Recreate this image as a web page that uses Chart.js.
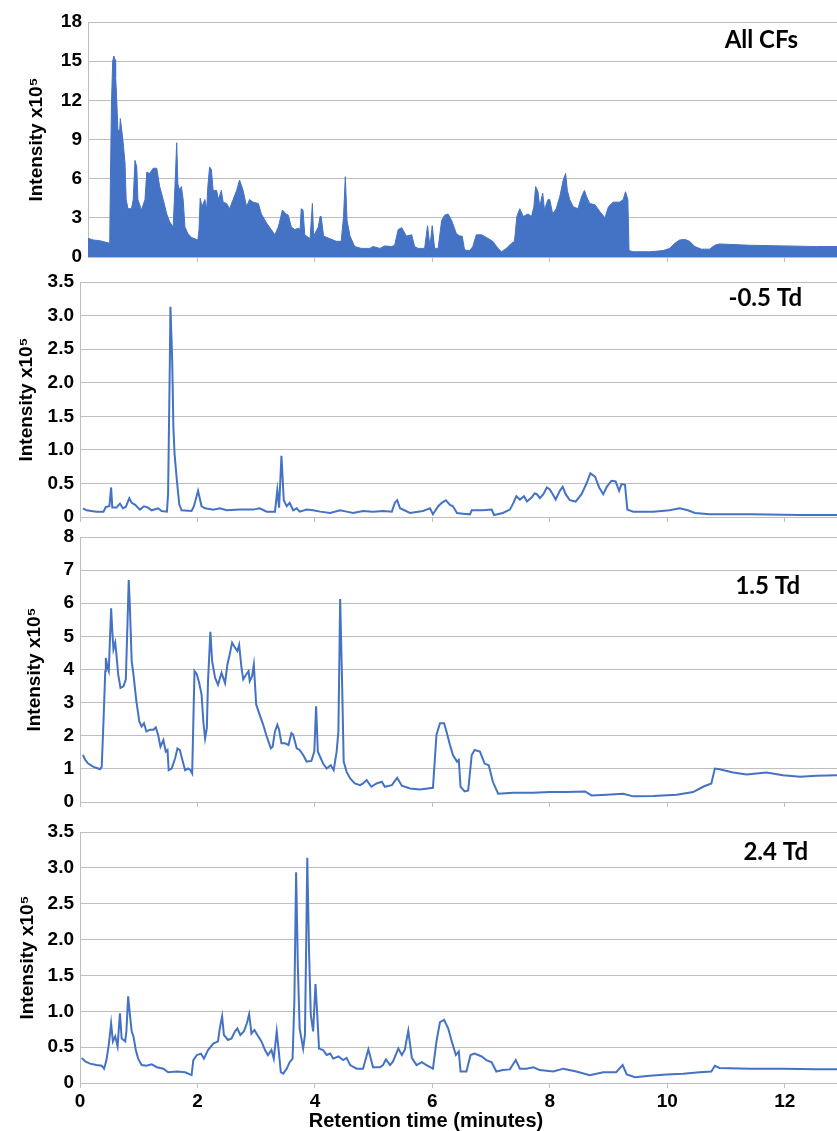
<!DOCTYPE html>
<html>
<head>
<meta charset="utf-8">
<script src="https://cdn.jsdelivr.net/npm/chart.js@4.4.1/dist/chart.umd.min.js"></script>
<style>
  body { margin: 0; background: #fff; width: 837px; height: 1131px; position: relative; overflow: hidden; }
  canvas { position: absolute; left: 0; }
</style>
</head>
<body>
<canvas id="p1" width="837" height="265" style="top:0px"></canvas>
<canvas id="p2" width="837" height="262" style="top:265px"></canvas>
<canvas id="p3" width="837" height="283" style="top:527px"></canvas>
<canvas id="p4" width="837" height="323" style="top:810px"></canvas>
<script>
// Retention time ticks (minutes)
const xTicks = [0, 2, 4, 6, 8, 10, 12];

// All CFs (x10^5)
const allT = [0.14, 0.23, 0.34, 0.51, 0.52, 0.54, 0.56, 0.58, 0.60, 0.61, 0.62, 0.65, 0.68, 0.69, 0.72, 0.74, 0.77, 0.79, 0.82, 0.88,
  0.91, 0.94, 0.97, 0.99, 1.05, 1.11, 1.14, 1.19, 1.25, 1.31, 1.36, 1.42, 1.48, 1.53, 1.59, 1.62, 1.65, 1.67, 1.70, 1.73,
  1.76, 1.79, 1.84, 1.90, 2.01, 2.03, 2.05, 2.08, 2.13, 2.16, 2.18, 2.21, 2.24, 2.27, 2.33, 2.36, 2.41, 2.44, 2.50, 2.55,
  2.61, 2.67, 2.72, 2.78, 2.84, 2.89, 2.95, 3.04, 3.09, 3.18, 3.26, 3.32, 3.38, 3.45, 3.51, 3.55, 3.60, 3.66, 3.72, 3.75,
  3.77, 3.80, 3.83, 3.92, 3.96, 3.98, 4.06, 4.09, 4.11, 4.15, 4.26, 4.37, 4.45, 4.49, 4.52, 4.55, 4.60, 4.68, 4.79, 4.94,
  4.99, 5.11, 5.19, 5.31, 5.36, 5.42, 5.48, 5.56, 5.65, 5.70, 5.76, 5.87, 5.92, 5.96, 6.00, 6.04, 6.10, 6.16, 6.21, 6.27,
  6.33, 6.41, 6.47, 6.51, 6.55, 6.64, 6.69, 6.75, 6.84, 6.92, 7.03, 7.12, 7.18, 7.26, 7.35, 7.40, 7.44, 7.49, 7.55, 7.63,
  7.69, 7.73, 7.76, 7.80, 7.83, 7.88, 7.91, 7.97, 8.00, 8.05, 8.11, 8.17, 8.23, 8.27, 8.30, 8.34, 8.40, 8.48, 8.54, 8.59,
  8.63, 8.68, 8.77, 8.85, 8.94, 9.00, 9.08, 9.19, 9.25, 9.29, 9.33, 9.35, 9.42, 9.70, 9.93, 10.04, 10.13, 10.21, 10.30, 10.38,
  10.47, 10.58, 10.72, 10.81, 10.89, 11.40, 11.97, 12.54, 12.90];
const allY = [1.43, 1.3, 1.25, 1.05, 5.4, 11.8, 15.0, 15.4, 15.1, 13.8, 13.0, 9.7, 9.7, 10.6, 9.5, 8.7, 7.2, 4.4, 3.7, 3.7,
  4.4, 7.4, 6.9, 4.4, 3.6, 4.4, 6.5, 6.4, 6.8, 6.8, 5.4, 4.4, 3.3, 2.7, 2.3, 5.4, 8.75, 5.6, 5.1, 5.4,
  4.4, 2.3, 1.8, 1.5, 1.3, 2.1, 4.5, 3.85, 4.4, 3.6, 5.4, 6.9, 6.7, 5.1, 5.1, 4.4, 5.1, 4.2, 4.1, 3.7,
  4.4, 5.1, 5.9, 5.1, 3.85, 4.4, 4.2, 4.1, 3.3, 2.6, 2.1, 1.7, 2.3, 3.6, 3.3, 3.2, 2.3, 2.1, 2.2, 2.1,
  3.7, 3.6, 1.7, 1.4, 4.1, 1.6, 2.3, 3.1, 3.1, 1.6, 1.4, 1.2, 1.2, 3.1, 6.15, 2.8, 1.6, 0.8, 0.66, 0.66,
  0.8, 0.66, 0.85, 0.8, 0.9, 2.1, 2.25, 1.6, 1.7, 0.8, 0.66, 0.66, 2.4, 0.8, 2.4, 0.66, 0.66, 2.8, 3.2, 3.3,
  2.8, 1.8, 1.6, 1.6, 0.54, 0.49, 0.8, 1.7, 1.7, 1.5, 1.2, 0.66, 0.4, 0.66, 1.05, 1.2, 3.1, 3.7, 3.1, 3.3,
  3.1, 3.85, 5.4, 5.0, 3.85, 4.9, 3.6, 4.4, 4.4, 3.3, 3.7, 4.6, 5.9, 6.4, 5.1, 4.4, 3.85, 3.7, 4.6, 5.1,
  4.6, 4.1, 4.0, 3.5, 3.0, 3.85, 4.2, 4.2, 4.4, 5.0, 4.4, 0.49, 0.4, 0.4, 0.49, 0.66, 1.05, 1.3, 1.35, 1.2,
  0.8, 0.6, 0.6, 0.9, 1.0, 0.9, 0.85, 0.8, 0.8];

// -0.5 Td (x10^5)
const negT = [0.05, 0.11, 0.28, 0.40, 0.44, 0.50, 0.53, 0.55, 0.62, 0.68, 0.73, 0.78, 0.84, 0.88, 0.94, 1.02, 1.09, 1.16, 1.22, 1.33,
  1.39, 1.48, 1.50, 1.53, 1.54, 1.57, 1.59, 1.61, 1.65, 1.69, 1.73, 1.90, 1.94, 2.01, 2.07, 2.13, 2.27, 2.38, 2.50, 2.72,
  2.95, 3.06, 3.18, 3.32, 3.36, 3.39, 3.43, 3.47, 3.52, 3.57, 3.63, 3.69, 3.74, 3.86, 3.97, 4.09, 4.26, 4.43, 4.54, 4.65,
  4.82, 4.99, 5.16, 5.31, 5.36, 5.40, 5.45, 5.62, 5.84, 5.90, 5.96, 6.01, 6.10, 6.16, 6.23, 6.30, 6.35, 6.42, 6.52, 6.64,
  6.67, 6.86, 7.01, 7.05, 7.20, 7.32, 7.38, 7.43, 7.49, 7.56, 7.61, 7.69, 7.74, 7.78, 7.83, 7.89, 7.95, 8.00, 8.05, 8.10,
  8.17, 8.22, 8.27, 8.34, 8.44, 8.54, 8.63, 8.69, 8.77, 8.84, 8.91, 8.97, 9.05, 9.12, 9.18, 9.22, 9.28, 9.32, 9.42, 9.76,
  10.04, 10.21, 10.35, 10.47, 10.72, 11.40, 12.26, 12.90];
const negY = [0.13, 0.10, 0.08, 0.08, 0.15, 0.16, 0.44, 0.14, 0.14, 0.20, 0.13, 0.15, 0.28, 0.21, 0.18, 0.11, 0.16, 0.14, 0.10, 0.13,
  0.09, 0.08, 0.34, 2.33, 3.13, 2.33, 1.34, 0.94, 0.54, 0.19, 0.10, 0.09, 0.16, 0.39, 0.16, 0.13, 0.11, 0.13, 0.10, 0.11,
  0.11, 0.13, 0.08, 0.08, 0.40, 0.14, 0.91, 0.25, 0.16, 0.21, 0.10, 0.13, 0.08, 0.11, 0.10, 0.08, 0.06, 0.10, 0.08, 0.06,
  0.09, 0.08, 0.09, 0.08, 0.21, 0.25, 0.13, 0.06, 0.09, 0.11, 0.13, 0.04, 0.16, 0.21, 0.25, 0.18, 0.16, 0.06, 0.05, 0.04,
  0.10, 0.10, 0.11, 0.03, 0.06, 0.11, 0.21, 0.31, 0.26, 0.31, 0.23, 0.29, 0.35, 0.34, 0.28, 0.34, 0.44, 0.41, 0.34, 0.26,
  0.39, 0.45, 0.34, 0.25, 0.23, 0.34, 0.51, 0.65, 0.60, 0.44, 0.34, 0.45, 0.54, 0.53, 0.39, 0.49, 0.48, 0.11, 0.08, 0.08,
  0.10, 0.13, 0.10, 0.06, 0.04, 0.04, 0.03, 0.03];

// 1.5 Td (x10^5)
const midT = [0.05, 0.09, 0.14, 0.23, 0.31, 0.34, 0.37, 0.40, 0.43, 0.44, 0.47, 0.49, 0.53, 0.55, 0.57, 0.60, 0.62, 0.65, 0.69, 0.74,
  0.78, 0.81, 0.83, 0.85, 0.88, 0.91, 0.96, 1.01, 1.05, 1.09, 1.13, 1.19, 1.25, 1.29, 1.33, 1.37, 1.42, 1.46, 1.49, 1.51,
  1.56, 1.62, 1.66, 1.70, 1.75, 1.79, 1.84, 1.88, 1.91, 1.93, 1.95, 1.99, 2.03, 2.07, 2.10, 2.13, 2.16, 2.18, 2.22, 2.25,
  2.30, 2.35, 2.41, 2.47, 2.51, 2.55, 2.59, 2.64, 2.68, 2.71, 2.75, 2.78, 2.83, 2.87, 2.89, 2.93, 2.96, 3.00, 3.06, 3.12,
  3.17, 3.21, 3.25, 3.28, 3.32, 3.36, 3.39, 3.43, 3.49, 3.55, 3.60, 3.63, 3.69, 3.74, 3.80, 3.86, 3.94, 3.99, 4.02, 4.05,
  4.10, 4.14, 4.20, 4.27, 4.32, 4.37, 4.40, 4.43, 4.46, 4.49, 4.54, 4.60, 4.68, 4.77, 4.82, 4.88, 4.96, 5.05, 5.14, 5.19,
  5.31, 5.40, 5.48, 5.62, 5.79, 6.01, 6.07, 6.13, 6.20, 6.24, 6.30, 6.35, 6.42, 6.45, 6.48, 6.55, 6.61, 6.67, 6.72, 6.81,
  6.89, 6.96, 7.03, 7.12, 7.38, 7.72, 8.00, 8.28, 8.60, 8.71, 8.97, 9.25, 9.42, 9.76, 10.16, 10.44, 10.61, 10.75, 10.81, 10.89,
  11.12, 11.35, 11.69, 11.97, 12.26, 12.54, 12.90];
const midY = [1.42, 1.27, 1.16, 1.06, 1.01, 0.99, 1.06, 2.43, 3.95, 4.35, 4.05, 3.95, 5.85, 5.16, 4.61, 4.81, 4.46, 3.85, 3.44, 3.49,
  3.70, 5.47, 6.70, 5.87, 4.25, 3.85, 3.04, 2.43, 2.28, 2.38, 2.13, 2.18, 2.18, 2.25, 2.03, 1.67, 1.87, 1.52, 1.57, 0.96,
  1.01, 1.32, 1.62, 1.57, 1.22, 0.96, 1.01, 0.96, 0.86, 2.43, 3.95, 3.85, 3.59, 3.24, 2.43, 1.92, 2.23, 3.65, 5.14, 4.25,
  3.75, 3.54, 3.90, 3.59, 4.15, 4.46, 4.81, 4.66, 4.56, 4.74, 4.05, 3.70, 3.85, 3.95, 3.65, 3.80, 4.15, 2.94, 2.63, 2.33,
  2.03, 1.82, 1.62, 1.67, 2.13, 2.33, 2.18, 1.77, 1.77, 1.72, 2.08, 2.03, 1.62, 1.57, 1.42, 1.22, 1.24, 1.52, 2.89, 1.52,
  1.32, 1.16, 1.01, 1.11, 0.96, 1.52, 2.13, 6.13, 3.85, 1.22, 0.91, 0.71, 0.56, 0.51, 0.56, 0.66, 0.46, 0.56, 0.61, 0.46,
  0.51, 0.73, 0.49, 0.41, 0.38, 0.43, 2.03, 2.38, 2.38, 2.13, 1.72, 1.42, 1.22, 1.27, 0.46, 0.32, 0.35, 1.42, 1.57, 1.52,
  1.16, 1.11, 0.61, 0.25, 0.28, 0.28, 0.30, 0.30, 0.32, 0.20, 0.22, 0.25, 0.17, 0.18, 0.22, 0.30, 0.46, 0.56, 1.01, 0.99,
  0.89, 0.83, 0.89, 0.81, 0.76, 0.79, 0.81];

// 2.4 Td (x10^5)
const hiT = [0.03, 0.09, 0.17, 0.28, 0.37, 0.41, 0.45, 0.49, 0.53, 0.56, 0.60, 0.64, 0.68, 0.71, 0.77, 0.79, 0.82, 0.85, 0.88, 0.91,
  0.95, 0.99, 1.05, 1.13, 1.22, 1.31, 1.42, 1.50, 1.65, 1.79, 1.90, 1.93, 1.99, 2.06, 2.11, 2.18, 2.27, 2.35, 2.38, 2.42,
  2.45, 2.52, 2.58, 2.64, 2.68, 2.73, 2.79, 2.84, 2.88, 2.92, 2.97, 3.02, 3.09, 3.15, 3.20, 3.26, 3.30, 3.35, 3.38, 3.42,
  3.46, 3.52, 3.57, 3.62, 3.65, 3.68, 3.71, 3.74, 3.80, 3.83, 3.85, 3.87, 3.90, 3.93, 3.97, 4.01, 4.04, 4.07, 4.14, 4.20,
  4.26, 4.31, 4.40, 4.48, 4.54, 4.60, 4.71, 4.82, 4.91, 4.99, 5.11, 5.16, 5.21, 5.28, 5.33, 5.42, 5.48, 5.53, 5.59, 5.65,
  5.73, 5.82, 5.90, 6.01, 6.07, 6.13, 6.20, 6.27, 6.33, 6.40, 6.45, 6.48, 6.58, 6.65, 6.72, 6.84, 6.92, 7.01, 7.09, 7.20,
  7.32, 7.42, 7.49, 7.60, 7.72, 7.83, 8.06, 8.23, 8.45, 8.68, 8.91, 9.13, 9.24, 9.31, 9.45, 9.70, 9.99, 10.27, 10.55, 10.75,
  10.81, 10.89, 11.40, 11.97, 12.54, 12.90];
const hiY = [0.35, 0.30, 0.27, 0.25, 0.24, 0.20, 0.32, 0.53, 0.83, 0.58, 0.65, 0.51, 0.97, 0.62, 0.58, 0.72, 1.21, 0.95, 0.72, 0.65,
  0.46, 0.34, 0.25, 0.24, 0.26, 0.22, 0.20, 0.15, 0.16, 0.15, 0.11, 0.32, 0.39, 0.41, 0.34, 0.46, 0.55, 0.58, 0.76, 0.93,
  0.67, 0.60, 0.62, 0.72, 0.76, 0.67, 0.72, 0.83, 0.96, 0.69, 0.74, 0.67, 0.58, 0.46, 0.39, 0.46, 0.34, 0.72, 0.48, 0.15,
  0.13, 0.20, 0.29, 0.34, 1.14, 2.94, 1.61, 0.76, 0.48, 0.67, 1.84, 3.14, 1.84, 0.95, 0.72, 1.38, 0.95, 0.48, 0.46, 0.39,
  0.41, 0.34, 0.37, 0.32, 0.35, 0.25, 0.20, 0.20, 0.47, 0.22, 0.22, 0.25, 0.33, 0.25, 0.30, 0.48, 0.39, 0.46, 0.73, 0.35,
  0.25, 0.29, 0.25, 0.20, 0.58, 0.85, 0.88, 0.76, 0.58, 0.39, 0.44, 0.16, 0.16, 0.39, 0.41, 0.37, 0.32, 0.29, 0.16, 0.18,
  0.19, 0.32, 0.20, 0.20, 0.22, 0.18, 0.16, 0.20, 0.16, 0.11, 0.15, 0.15, 0.25, 0.12, 0.08, 0.10, 0.12, 0.13, 0.15, 0.16,
  0.24, 0.21, 0.20, 0.20, 0.19, 0.19];

const X_MAX = 12.89;
const blue = '#4472C4';
const gridColor = '#bebebe';
const boldFont = { family: '"Liberation Sans", Arial, sans-serif', size: 19, weight: 'bold' };

// Panel caption drawn in the upper right of each plot
const panelLabel = {
  id: 'panelLabel',
  afterDraw(chart, args, o) {
    const ctx = chart.ctx;
    ctx.save();
    ctx.font = 'bold 24px Lato, "Open Sans", sans-serif';
    ctx.fillStyle = '#000';
    ctx.textAlign = 'right';
    ctx.textBaseline = 'middle';
    ctx.fillText(o.text, o.x, o.y);
    ctx.restore();
  }
};

// keep the label overhang from pushing the plot area around
function noPad(s) {
  s.paddingTop = 0;
  s.paddingBottom = 0;
  s.paddingLeft = 0;
  s.paddingRight = 0;
}

function makePanel(id, times, values, cfg) {
  const points = times.map((t, i) => ({ x: t, y: values[i] }));
  return new Chart(document.getElementById(id), {
    type: 'line',
    data: {
      datasets: [{
        data: points,
        borderColor: blue,
        backgroundColor: blue,
        borderWidth: cfg.fill ? 1 : 2,
        pointRadius: 0,
        tension: 0,
        fill: cfg.fill ? 'origin' : false
      }]
    },
    options: {
      responsive: false,
      animation: false,
      devicePixelRatio: 1,
      layout: {
        autoPadding: false,
        padding: { top: cfg.padTop, left: cfg.padLeft || 0, right: 0, bottom: 0 }
      },
      scales: {
        x: {
          type: 'linear',
          min: cfg.xMin,
          max: X_MAX,
          afterBuildTicks: (s) => { s.ticks = xTicks.filter(v => v >= s.min).map(v => ({ value: v })); },
          afterFit: (s) => { s.height = cfg.axisH; noPad(s); },
          ticks: { display: !!cfg.showX, font: boldFont, color: '#000', padding: 2, maxRotation: 0 },
          grid: { drawOnChartArea: false, tickLength: 5, color: gridColor },
          border: { color: gridColor }
        },
        y: {
          min: 0,
          max: cfg.yMax,
          afterFit: (s) => { s.width = cfg.axisW; noPad(s); },
          ticks: {
            stepSize: cfg.step,
            font: boldFont,
            color: '#000',
            padding: 6,
            callback: cfg.fmt
          },
          grid: { color: gridColor, drawTicks: false },
          border: { color: gridColor },
          title: {
            display: true,
            text: 'Intensity x10⁵',
            font: boldFont,
            color: '#000',
            padding: { top: cfg.titlePad, bottom: 0 }
          }
        }
      },
      plugins: {
        legend: { display: false },
        tooltip: { enabled: false },
        title: cfg.xTitle ? {
          display: true,
          position: 'bottom',
          text: cfg.xTitle,
          font: { family: '"Liberation Sans", Arial, sans-serif', size: 20, weight: 'bold' },
          color: '#000',
          padding: { top: 0, bottom: 0 }
        } : { display: false },
        panelLabel: { text: cfg.label, x: cfg.labelX, y: cfg.labelY }
      }
    },
    plugins: [panelLabel]
  });
}

const intFmt = (v) => String(Math.round(v));
const halfFmt = (v) => (Math.abs(v) < 1e-9 ? '0' : v.toFixed(1));

makePanel('p1', allT, allY, {
  fill: true, xMin: 0.14, yMax: 18, step: 3, fmt: intFmt,
  padTop: 22, axisH: 8, axisW: 88, titlePad: 25,
  label: 'All CFs', labelX: 798, labelY: 40
});
makePanel('p2', negT, negY, {
  xMin: 0, yMax: 3.5, step: 0.5, fmt: halfFmt,
  padTop: 17, axisH: 10, axisW: 80, titlePad: 15,
  label: '-0.5 Td', labelX: 802, labelY: 33
});
makePanel('p3', midT, midY, {
  xMin: 0, yMax: 8, step: 1, fmt: intFmt,
  padTop: 10, axisH: 8, axisW: 80, titlePad: 23,
  label: '1.5 Td', labelX: 800, labelY: 59
});
makePanel('p4', hiT, hiY, {
  xMin: 0, yMax: 3.5, step: 0.5, fmt: halfFmt, showX: true,
  padTop: 22, axisH: 26, axisW: 65, padLeft: 15, titlePad: 1,
  xTitle: 'Retention time (minutes)',
  label: '2.4 Td', labelX: 808, labelY: 42
});
</script>
</body>
</html>
